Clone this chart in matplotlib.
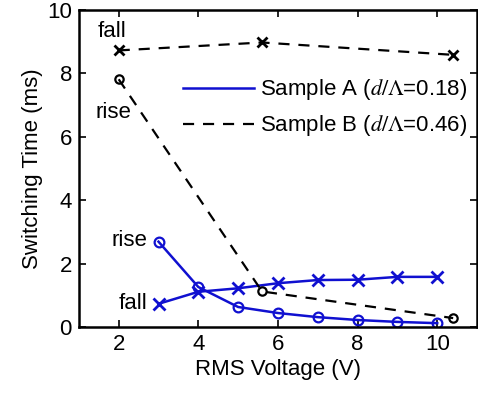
import matplotlib.pyplot as plt
from matplotlib.lines import Line2D

plt.rcParams['font.family'] = ['Liberation Sans', 'DejaVu Sans']
plt.rcParams['mathtext.fontset'] = 'stix'

# Sample A (d/Lambda = 0.18)
volt_a = [3, 4, 5, 6, 7, 8, 9, 10]
rise_a = [2.69, 1.26, 0.63, 0.44, 0.31, 0.22, 0.16, 0.12]
fall_a = [0.73, 1.11, 1.22, 1.38, 1.48, 1.49, 1.58, 1.58]

# Sample B (d/Lambda = 0.46)
volt_b = [2, 5.6, 10.4]
rise_b = [7.81, 1.12, 0.28]
fall_b = [8.72, 8.97, 8.58]

labels = [r'Sample A ($d/\Lambda$=0.18)', r'Sample B ($d/\Lambda$=0.46)']

fig = plt.figure(figsize=(4.78, 3.93), dpi=100)
ax = fig.add_axes([0.165, 0.168, 0.833, 0.807])

blue = '#1010d0'
ax.plot(volt_a, rise_a, '-o', color=blue, lw=1.8, ms=7, mfc='none', mew=1.6)
ax.plot(volt_a, fall_a, '-x', color=blue, lw=1.8, ms=8, mew=2)
ax.plot(volt_b, rise_b, '--o', color='black', lw=1.6, ms=6, mfc='none', mew=1.6, dashes=(5, 4))
ax.plot(volt_b, fall_b, '--x', color='black', lw=1.6, ms=7, mew=2, dashes=(5, 4))

fs = 16
ax.text(1.82, 9.32, 'fall', fontsize=fs, ha='center', va='center')
ax.text(1.86, 6.75, 'rise', fontsize=fs, ha='center', va='center')
ax.text(2.72, 2.74, 'rise', fontsize=fs, ha='right', va='center')
ax.text(2.72, 0.73, 'fall', fontsize=fs, ha='right', va='center')

ax.set_xlim(1, 11)
ax.set_ylim(0, 10)
ax.set_xticks([2, 4, 6, 8, 10])
ax.set_yticks([0, 2, 4, 6, 8, 10])
ax.tick_params(direction='in', top=True, right=True, labelsize=fs, length=5, width=1.2, pad=5)
for s in ax.spines.values():
    s.set_linewidth(1.8)
ax.set_xlabel('RMS Voltage (V)', fontsize=fs, labelpad=3)
ax.set_ylabel('Switching Time (ms)', fontsize=fs, labelpad=3)

handles = [Line2D([], [], color=blue, lw=1.8),
           Line2D([], [], color='black', lw=1.6, ls='--', dashes=(5, 4))]
ax.legend(handles, labels, loc='upper left', bbox_to_anchor=(0.261, 0.787), frameon=False,
          fontsize=fs, handlelength=3.2, handletextpad=0.27, labelspacing=0.5,
          borderpad=0, borderaxespad=0)

fig.savefig('out.png', dpi=100)
